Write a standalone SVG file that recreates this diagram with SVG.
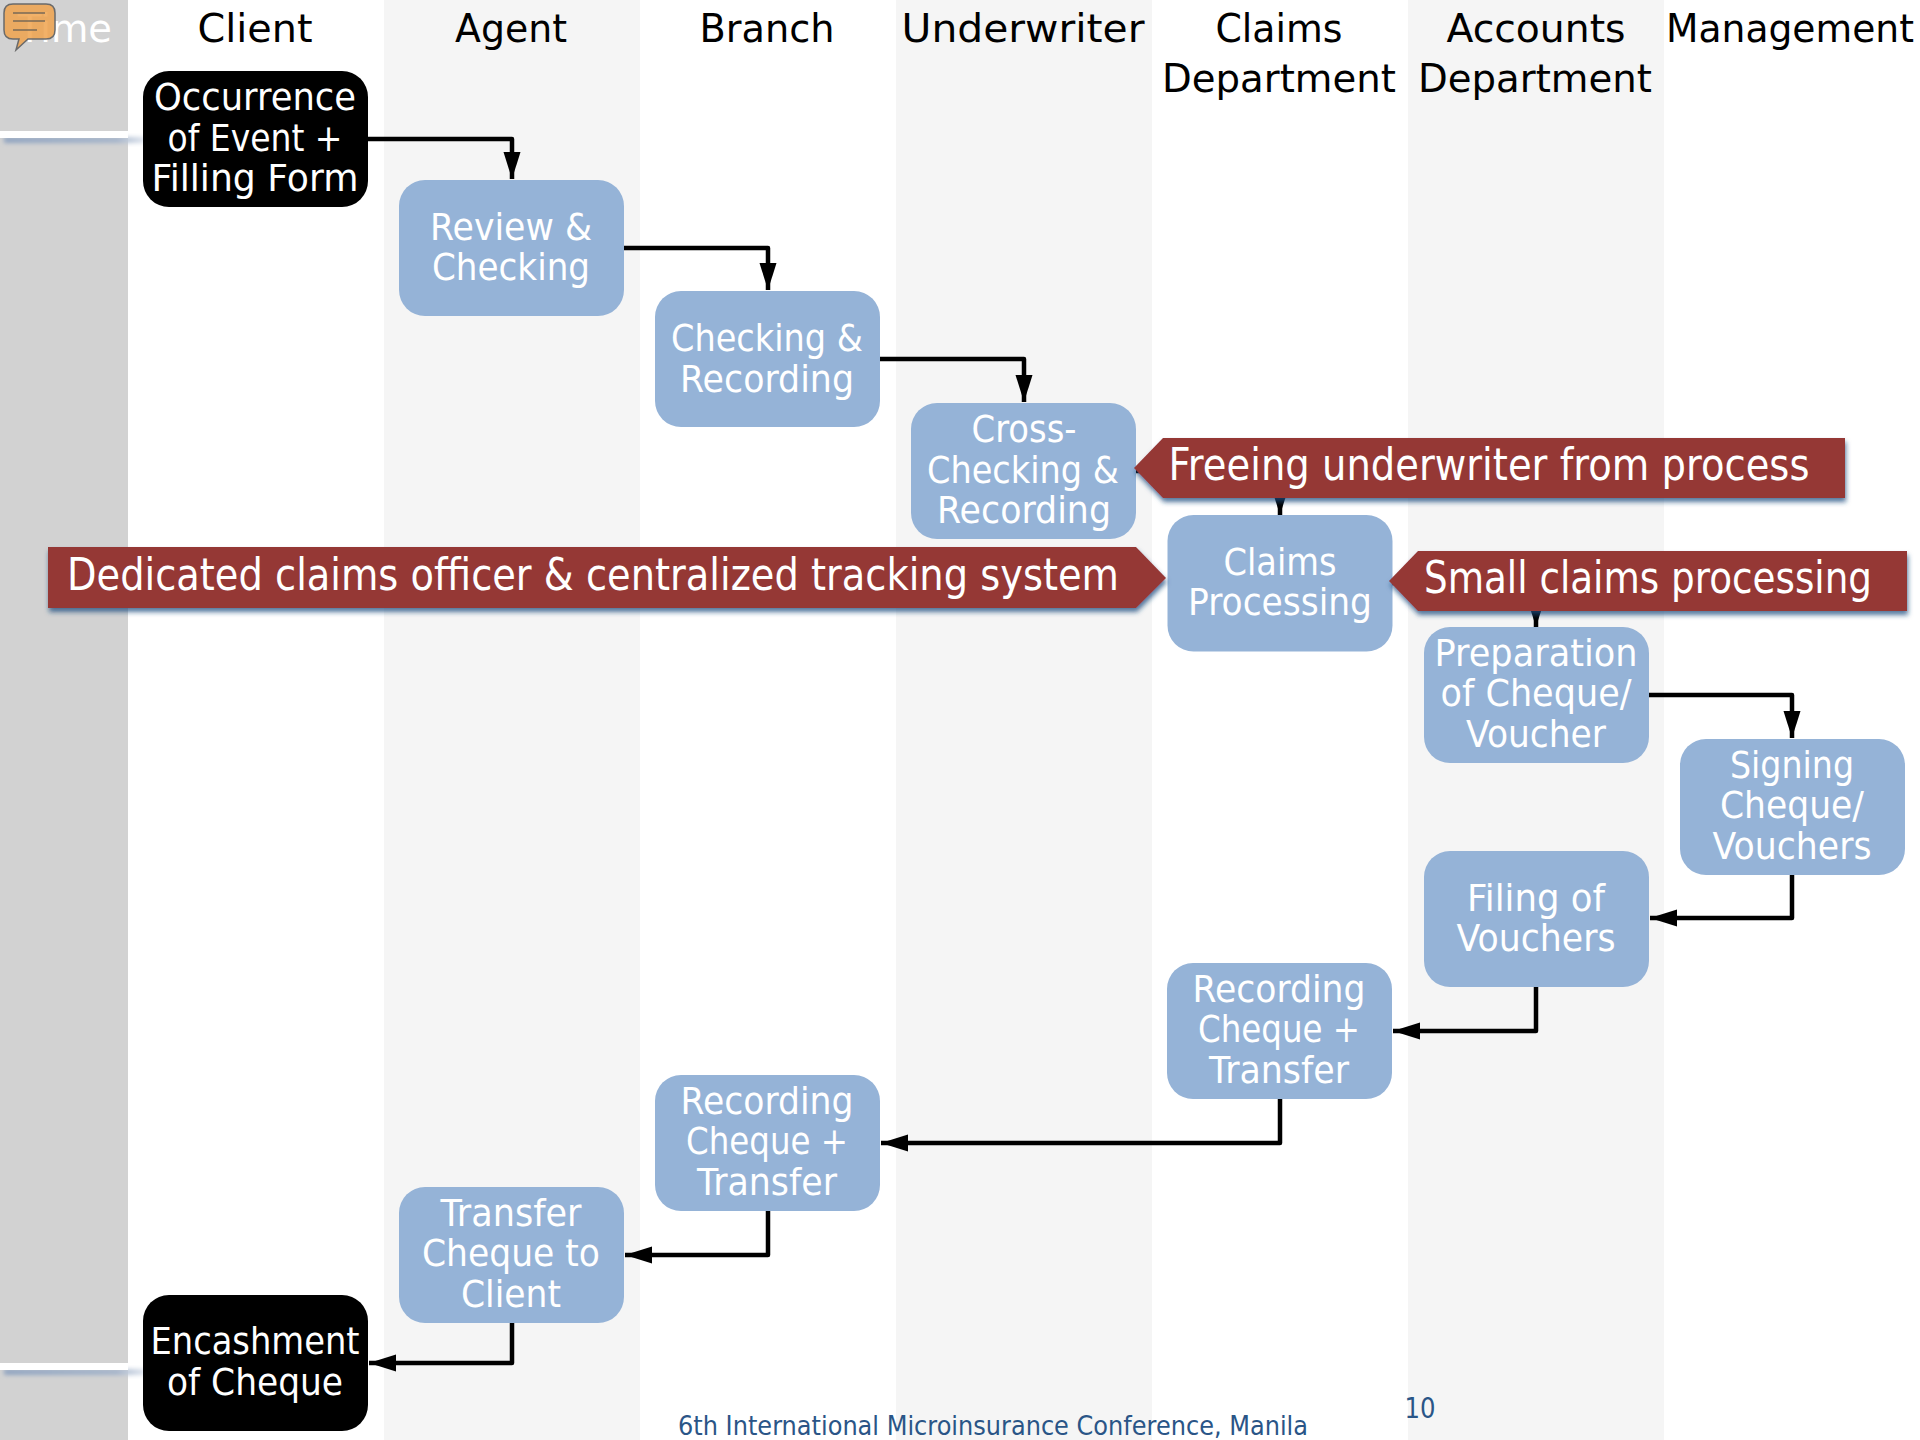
<svg xmlns="http://www.w3.org/2000/svg" width="1920" height="1440" viewBox="0 0 1920 1440">
<style>
text{font-family:"DejaVu Sans","Liberation Sans",sans-serif;text-anchor:middle}
.h{font-size:39px;fill:#000}
.n{font-size:38px;fill:#fff}
.b{font-size:44px;fill:#fff}
.blue{fill:#95b3d7}
.blk{fill:#000}
.ban{fill:#953735;filter:url(#sh)}
.c{fill:none;stroke:#000;stroke-width:4.5;stroke-linejoin:round;marker-end:url(#ah)}
</style>
<defs>
<marker id="ah" markerUnits="userSpaceOnUse" markerWidth="28" markerHeight="18" refX="27" refY="8.5" orient="auto"><path d="M0 0L27 8.5L0 17z" fill="#000"/></marker>
<filter id="sh" x="-5%" y="-10%" width="110%" height="130%"><feDropShadow dx="1" dy="4" stdDeviation="2.5" flood-color="#1f497d" flood-opacity=".75"/></filter>
<filter id="bl" x="-5%" y="-100%" width="110%" height="300%"><feGaussianBlur stdDeviation="2"/></filter>
<linearGradient id="fade"><stop offset="0" stop-color="#8fa3c0"/><stop offset=".8" stop-color="#a3b3ca"/><stop offset="1" stop-color="#dfe5ee"/></linearGradient>
</defs>
<g id="lanes">
<rect width="1920" height="1440" fill="#fff"/>
<rect x="0" y="0" width="128" height="1440" fill="#d2d2d2"/>
<rect x="384" y="0" width="256" height="1440" fill="#f5f5f5"/>
<rect x="896" y="0" width="256" height="1440" fill="#f5f5f5"/>
<rect x="1408" y="0" width="256" height="1440" fill="#f5f5f5"/>
<rect x="4" y="137" width="141" height="6" fill="url(#fade)" filter="url(#bl)"/>
<rect x="0" y="131" width="128" height="7" fill="#fff"/>
<rect x="4" y="1369" width="141" height="6" fill="url(#fade)" filter="url(#bl)"/>
<rect x="0" y="1363" width="128" height="7" fill="#fff"/>
</g>
<g id="headers">
<text class="h" style="fill:#fff" x="65" y="42" textLength="94" lengthAdjust="spacingAndGlyphs">Time</text>
<text class="h" x="255" y="42" textLength="115" lengthAdjust="spacingAndGlyphs">Client</text>
<text class="h" x="511" y="42" textLength="112" lengthAdjust="spacingAndGlyphs">Agent</text>
<text class="h" x="767" y="42" textLength="135" lengthAdjust="spacingAndGlyphs">Branch</text>
<text class="h" x="1023" y="42" textLength="243" lengthAdjust="spacingAndGlyphs">Underwriter</text>
<text class="h" x="1279" y="42" textLength="127" lengthAdjust="spacingAndGlyphs">Claims</text>
<text class="h" x="1279" y="92" textLength="234" lengthAdjust="spacingAndGlyphs">Department</text>
<text class="h" x="1536" y="42" textLength="179" lengthAdjust="spacingAndGlyphs">Accounts</text>
<text class="h" x="1535" y="92" textLength="234" lengthAdjust="spacingAndGlyphs">Department</text>
<text class="h" x="1790" y="42" textLength="248" lengthAdjust="spacingAndGlyphs">Management</text>
</g>
<g id="connectors">
<path class="c" d="M368 139H512V179"/>
<path class="c" d="M624 248H768V290"/>
<path class="c" d="M880 359H1024V402"/>
<path class="c" d="M1136 471H1280V515"/>
<path class="c" d="M1392 583H1536V627"/>
<path class="c" d="M1649 695H1792V738"/>
<path class="c" d="M1792 875V918H1650"/>
<path class="c" d="M1536 987V1031H1393"/>
<path class="c" d="M1280 1098V1143H881"/>
<path class="c" d="M768 1211V1255H625"/>
<path class="c" d="M512 1323V1363H369"/>
</g>
<g id="occurrence"><rect class="blk" x="143" y="71" width="225" height="136" rx="26"/>
<text class="n" x="255" y="110" textLength="202" lengthAdjust="spacingAndGlyphs">Occurrence</text>
<text class="n" x="255" y="151" textLength="175" lengthAdjust="spacingAndGlyphs">of Event +</text>
<text class="n" x="255" y="191" textLength="207" lengthAdjust="spacingAndGlyphs">Filling Form</text></g>
<g id="review"><rect class="blue" x="399" y="180" width="225" height="136" rx="26"/>
<text class="n" x="511" y="240" textLength="162" lengthAdjust="spacingAndGlyphs">Review &amp;</text>
<text class="n" x="511" y="280" textLength="158" lengthAdjust="spacingAndGlyphs">Checking</text></g>
<g id="checking"><rect class="blue" x="655" y="291" width="225" height="136" rx="26"/>
<text class="n" x="767" y="351" textLength="192" lengthAdjust="spacingAndGlyphs">Checking &amp;</text>
<text class="n" x="767" y="392" textLength="174" lengthAdjust="spacingAndGlyphs">Recording</text></g>
<g id="cross"><rect class="blue" x="911" y="403" width="225" height="136" rx="26"/>
<text class="n" x="1024" y="442" textLength="105" lengthAdjust="spacingAndGlyphs">Cross-</text>
<text class="n" x="1023" y="483" textLength="192" lengthAdjust="spacingAndGlyphs">Checking &amp;</text>
<text class="n" x="1024" y="523" textLength="174" lengthAdjust="spacingAndGlyphs">Recording</text></g>
<g id="claims"><rect class="blue" x="1167.500" y="515" width="225" height="136.500" rx="26"/>
<text class="n" x="1280" y="575" textLength="113" lengthAdjust="spacingAndGlyphs">Claims</text>
<text class="n" x="1280" y="615" textLength="184" lengthAdjust="spacingAndGlyphs">Processing</text></g>
<g id="preparation"><rect class="blue" x="1424" y="627" width="225" height="136" rx="26"/>
<text class="n" x="1536" y="666" textLength="203" lengthAdjust="spacingAndGlyphs">Preparation</text>
<text class="n" x="1536" y="706" textLength="191" lengthAdjust="spacingAndGlyphs">of Cheque/</text>
<text class="n" x="1536" y="747" textLength="140" lengthAdjust="spacingAndGlyphs">Voucher</text></g>
<g id="signing"><rect class="blue" x="1680" y="739" width="225" height="136" rx="26"/>
<text class="n" x="1792" y="778" textLength="124" lengthAdjust="spacingAndGlyphs">Signing</text>
<text class="n" x="1792" y="818" textLength="144" lengthAdjust="spacingAndGlyphs">Cheque/</text>
<text class="n" x="1792" y="859" textLength="159" lengthAdjust="spacingAndGlyphs">Vouchers</text></g>
<g id="filing"><rect class="blue" x="1424" y="851" width="225" height="136" rx="26"/>
<text class="n" x="1536" y="911" textLength="138" lengthAdjust="spacingAndGlyphs">Filing of</text>
<text class="n" x="1536" y="951" textLength="159" lengthAdjust="spacingAndGlyphs">Vouchers</text></g>
<g id="recording1"><rect class="blue" x="1167" y="963" width="225" height="136" rx="26"/>
<text class="n" x="1279" y="1002" textLength="173" lengthAdjust="spacingAndGlyphs">Recording</text>
<text class="n" x="1279" y="1042" textLength="162" lengthAdjust="spacingAndGlyphs">Cheque +</text>
<text class="n" x="1279" y="1083" textLength="140" lengthAdjust="spacingAndGlyphs">Transfer</text></g>
<g id="recording2"><rect class="blue" x="655" y="1075" width="225" height="136" rx="26"/>
<text class="n" x="767" y="1114" textLength="173" lengthAdjust="spacingAndGlyphs">Recording</text>
<text class="n" x="767" y="1154" textLength="162" lengthAdjust="spacingAndGlyphs">Cheque +</text>
<text class="n" x="767" y="1195" textLength="140" lengthAdjust="spacingAndGlyphs">Transfer</text></g>
<g id="transfer"><rect class="blue" x="399" y="1187" width="225" height="136" rx="26"/>
<text class="n" x="511" y="1226" textLength="141" lengthAdjust="spacingAndGlyphs">Transfer</text>
<text class="n" x="511" y="1266" textLength="178" lengthAdjust="spacingAndGlyphs">Cheque to</text>
<text class="n" x="511" y="1307" textLength="100" lengthAdjust="spacingAndGlyphs">Client</text></g>
<g id="encashment"><rect class="blk" x="143" y="1295" width="225" height="136" rx="26"/>
<text class="n" x="255" y="1354" textLength="209" lengthAdjust="spacingAndGlyphs">Encashment</text>
<text class="n" x="255" y="1395" textLength="176" lengthAdjust="spacingAndGlyphs">of Cheque</text></g>
<g id="banner-freeing"><polygon class="ban" points="1134,468 1163,438 1845,438 1845,498 1163,498"/>
<text class="b" x="1489" y="480" textLength="641" lengthAdjust="spacingAndGlyphs">Freeing underwriter from process</text></g>
<g id="banner-dedicated"><polygon class="ban" points="48,547 1136,547 1166,578 1136,608 48,608"/>
<text class="b" x="593" y="590" textLength="1052" lengthAdjust="spacingAndGlyphs">Dedicated claims officer &amp; centralized tracking system</text></g>
<g id="banner-small"><polygon class="ban" points="1389,581 1418,551 1907,551 1907,611 1418,611"/>
<text class="b" x="1648" y="593" textLength="448" lengthAdjust="spacingAndGlyphs">Small claims processing</text></g>
<g id="footer">
<text x="993" y="1435" font-size="27" fill="#2a5587" textLength="630" lengthAdjust="spacingAndGlyphs">6th International Microinsurance Conference, Manila</text>
<text x="1420" y="1418" font-size="28" fill="#2a5587" textLength="31" lengthAdjust="spacingAndGlyphs">10</text>
</g>
<g id="comment-icon">
<path d="M13 4H46Q55 4 55 13V30Q55 39 46 39H28L16 50L19 39H13Q4 39 4 30V13Q4 4 13 4Z" fill="#f0a34e" fill-opacity=".85" stroke="#6a6a6a" stroke-width="1.5"/>
<path d="M13 13H45M13 21H45M13 30H37" stroke="#7a6a55" stroke-width="1.5" fill="none"/>
</g>
</svg>
